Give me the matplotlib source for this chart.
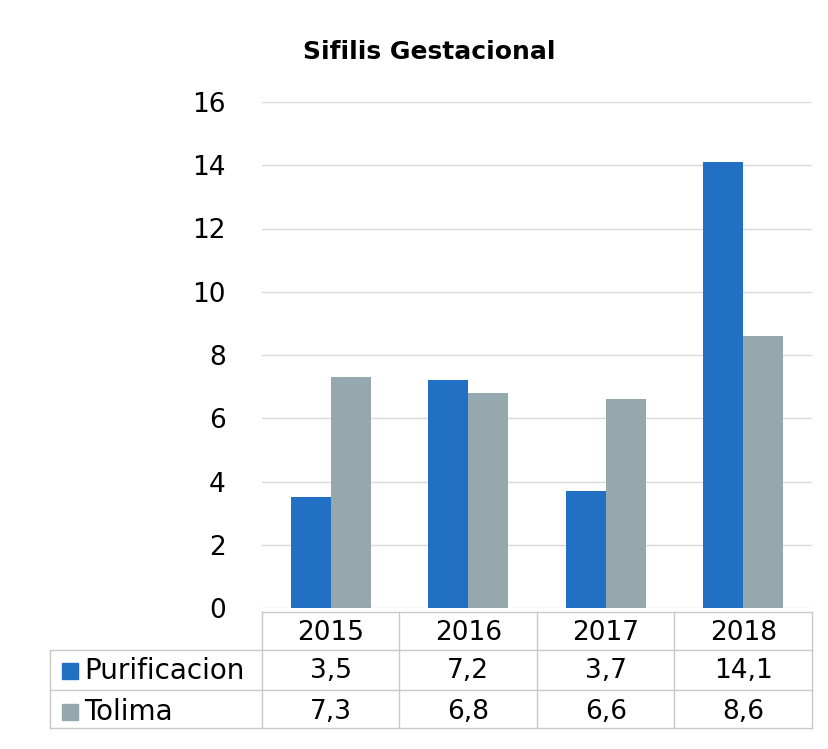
import matplotlib
matplotlib.use('Agg')
import matplotlib.pyplot as plt
from matplotlib.patches import Rectangle
import numpy as np

years = ['2015', '2016', '2017', '2018']
purificacion = [3.5, 7.2, 3.7, 14.1]
tolima = [7.3, 6.8, 6.6, 8.6]
series_names = ['Purificacion', 'Tolima']
colors = ['#2270c4', '#94a8ad']

plt.rcParams['font.family'] = ['DejaVu Sans']

W, H = 829, 749
fig = plt.figure(figsize=(W / 100, H / 100), dpi=100)

# plot area in pixel coords of the original picture
left, right, top, bottom = 262, 812, 102, 608
ax = fig.add_axes([left / W, 1 - bottom / H, (right - left) / W, (bottom - top) / H])

x = np.arange(len(years))
bw = 0.29
ax.bar(x - bw / 2, purificacion, bw, color=colors[0], zorder=3)
ax.bar(x + bw / 2, tolima, bw, color=colors[1], zorder=3)

ax.set_xlim(-0.5, len(years) - 0.5)
ax.set_ylim(0, 16)
ax.set_yticks(range(0, 17, 2))
ax.yaxis.grid(True, color='#d9d9d9', lw=1, zorder=0)
ax.tick_params(axis='y', length=0, pad=26, labelsize=19)
ax.set_xticks([])
for s in ax.spines.values():
    s.set_visible(False)

fig.text(429 / W, 1 - 52 / H, 'Sifilis Gestacional', ha='center', va='center',
         fontsize=18, fontweight='bold')

# data table below the axis
def fy(py):
    return 1 - py / H

def fx(px):
    return px / W

line_kw = dict(color='#c8c8c8', lw=1, transform=fig.transFigure)
row_lines = [612, 650, 690, 728]
col_x = [left + (right - left) * i / len(years) for i in range(len(years) + 1)]
label_left = 50

fig.add_artist(plt.Line2D([fx(left), fx(right)], [fy(612), fy(612)], **line_kw))
for py in row_lines[1:]:
    fig.add_artist(plt.Line2D([fx(label_left), fx(right)], [fy(py), fy(py)], **line_kw))
for cx in col_x:
    fig.add_artist(plt.Line2D([fx(cx), fx(cx)], [fy(612), fy(728)], **line_kw))
fig.add_artist(plt.Line2D([fx(label_left), fx(label_left)], [fy(650), fy(728)], **line_kw))

fmt = lambda v: f'{v:.1f}'.replace('.', ',')
for i, yr in enumerate(years):
    cx = (col_x[i] + col_x[i + 1]) / 2
    fig.text(fx(cx), fy(633), yr, ha='center', va='center', fontsize=19)
    fig.text(fx(cx), fy(671), fmt(purificacion[i]), ha='center', va='center', fontsize=19)
    fig.text(fx(cx), fy(712), fmt(tolima[i]), ha='center', va='center', fontsize=19)

for name, col, py in zip(series_names, colors, [671, 712]):
    fig.add_artist(Rectangle((fx(62), fy(py + 8)), fx(16), 16 / H, color=col,
                             transform=fig.transFigure))
    fig.text(fx(84), fy(py), name, ha='left', va='center', fontsize=20)

fig.savefig('out.png', dpi=100)
